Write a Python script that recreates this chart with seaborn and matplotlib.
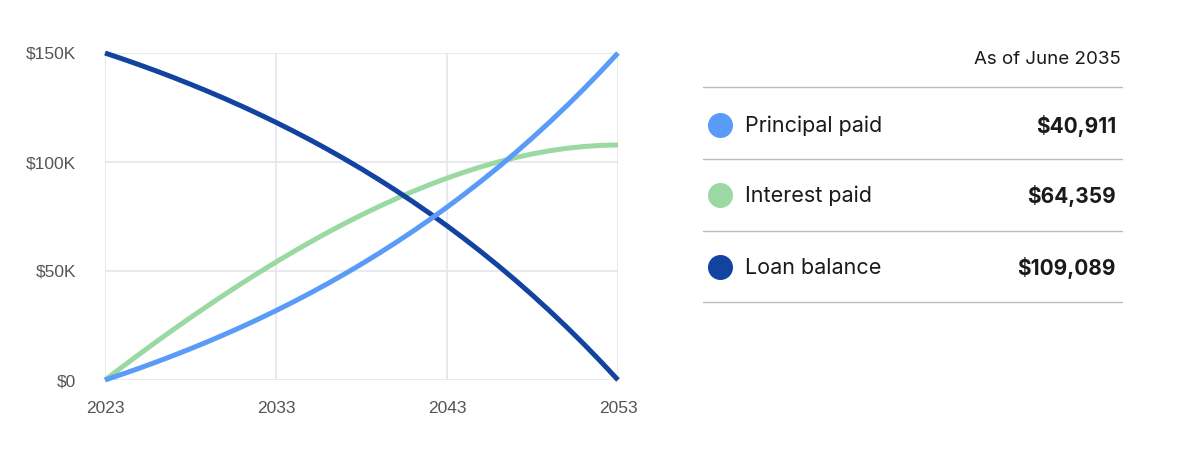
import matplotlib
matplotlib.use("Agg")
import matplotlib.pyplot as plt
import seaborn as sns
import pandas as pd
from matplotlib.lines import Line2D

# ---- data (in $) ----
years = list(range(2023, 2054))
loan_balance = [150000, 147358, 144609, 141748, 138770, 135671, 132446, 129089,
                125596, 121960, 118176, 114238, 110140, 105874, 101435, 96815,
                92006, 87002, 81794, 76374, 70733, 64862, 58752, 52393, 45774,
                38887, 31718, 24258, 16494, 8413, 0]
principal_paid = [0, 2642, 5391, 8252, 11230, 14329, 17554, 20911, 24404, 28040,
                  31824, 35762, 39860, 44126, 48565, 53185, 57994, 62998, 68206,
                  73626, 79267, 85138, 91248, 97607, 104226, 111113, 118282,
                  125742, 133506, 141587, 150000]
interest_paid = [0, 5951, 11796, 17528, 23144, 28638, 34007, 39243, 44344, 49301,
                 54110, 58766, 63261, 67589, 71743, 75717, 79501, 83090, 86476,
                 89649, 92602, 95324, 97808, 100042, 102017, 103723, 105147,
                 106281, 107110, 107623, 107803]

x_ticks = [2023, 2033, 2043, 2053]
y_ticks = [0, 50000, 100000, 150000]
y_tick_labels = ["$0", "$50K", "$100K", "$150K"]

legend_title = "As of June 2035"
legend_labels = ["Principal paid", "Interest paid", "Loan balance"]
legend_values = ["$40,911", "$64,359", "$109,089"]

colors = {"Principal paid": "#5b9bf8", "Interest paid": "#9bd9a2", "Loan balance": "#1343a0"}

df = pd.DataFrame({
    "year": years * 3,
    "value": interest_paid + loan_balance + principal_paid,
    "series": ["Interest paid"] * len(years) + ["Loan balance"] * len(years)
              + ["Principal paid"] * len(years),
})

sns.set_theme(style="white")
plt.rcParams["font.family"] = ["Liberation Sans", "DejaVu Sans"]

fig = plt.figure(figsize=(11.84, 4.70), dpi=100)
ax = fig.add_axes([105 / 1184, 1 - 380 / 470, (618 - 105) / 1184, (380 - 53) / 470])

sns.lineplot(data=df, x="year", y="value", hue="series",
             hue_order=["Interest paid", "Loan balance", "Principal paid"],
             palette=colors, linewidth=3.6, ax=ax, legend=False, zorder=3)
for ln in ax.get_lines():
    ln.set_solid_capstyle("butt")
    ln.set_clip_on(False)

ax.set_xlim(2023, 2053)
ax.set_ylim(0, 150000)
ax.set_xticks(x_ticks)
ax.set_xticklabels([str(t) for t in x_ticks])
ax.set_yticks(y_ticks)
ax.set_yticklabels(y_tick_labels)
ax.grid(True, color="#e4e6ee", linewidth=1.2, zorder=0)
ax.set_axisbelow(True)
for s in ax.spines.values():
    s.set_visible(False)
ax.tick_params(axis="both", length=0, labelsize=12.5, labelcolor="#555555")
ax.tick_params(axis="y", pad=21)
ax.tick_params(axis="x", pad=15)
for lab in ax.get_yticklabels():
    lab.set_horizontalalignment("right")
ax.set_xlabel("")
ax.set_ylabel("")

# ---- legend panel ----
W, H = 1184, 470
def fx(px):
    return px / W
def fy(py):
    return 1 - py / H

fam = ["Inter", "DejaVu Sans"]
fig.text(fx(1121), fy(59), legend_title, ha="right", va="center",
         fontsize=13.5, color="#1a1a1a", family=fam)
for py in [87, 159, 231, 302]:
    fig.add_artist(Line2D([fx(703), fx(1122)], [fy(py), fy(py)],
                          color="#b9bcc8", linewidth=1.0))
row_y = [125, 195, 267]
for lab, val, py in zip(legend_labels, legend_values, row_y):
    fig.add_artist(Line2D([fx(720)], [fy(py)], marker="o", markersize=17,
                          color=colors[lab], linestyle="none"))
    fig.text(fx(745), fy(py + 1), lab, ha="left", va="center", fontsize=15.5,
             color="#1a1a1a", family=fam)
    fig.text(fx(1116), fy(py + 1), val, ha="right", va="center", fontsize=15,
             color="#1a1a1a", fontweight="bold", family=fam)

fig.savefig("out.png", dpi=100, facecolor="white")
